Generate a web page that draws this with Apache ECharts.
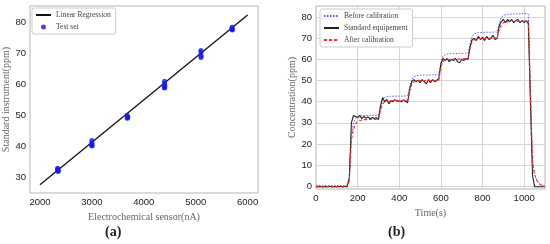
<!DOCTYPE html>
<html>
<head>
<meta charset="utf-8">
<script src="https://cdn.jsdelivr.net/npm/echarts@6/dist/echarts.min.js"></script>
<style>
  html, body { margin: 0; padding: 0; background: #fff; }
  #chart { width: 550px; height: 244px; }
</style>
</head>
<body>
<div id="chart"></div>
<script>
// (a) regression: sensor current vs standard instrument
var sensorX = [2340, 2345, 2350, 2340, 2350, 3000, 3000, 2995, 3005, 3000, 3680, 3690, 3680, 3690,
  4400, 4400, 4405, 4400, 4395, 5100, 5100, 5105, 5100, 5700, 5700, 5705, 5700];
var standardY = [32.8, 32.2, 31.8, 32.5, 32.0, 41.8, 41.0, 40.2, 40.0, 40.6, 50.0, 49.5, 49.0, 49.2,
  61.0, 60.2, 59.5, 58.8, 59.0, 71.0, 70.3, 69.2, 68.7, 78.5, 78.0, 77.6, 77.8];
var fitX = [2000, 6000];
var fitY = [27.5, 82.5];
var xTicksA = [2000, 3000, 4000, 5000, 6000];
var yTicksA = [30, 40, 50, 60, 70, 80];

// (b) time series, one sample every 10 s
var timeS = [];
for (var t = 0; t <= 1100; t += 10) timeS.push(t);

var standardEq = [
  -0.2, -0.3, -0.2, -0.3, -0.2, -0.3, -0.2, -0.2, -0.3, -0.2, -0.3, -0.2, -0.2, -0.3, -0.2, -0.2,
  4, 30, 33.5, 33, 32.5, 33.5, 32, 33, 32.2, 32.8, 31.8, 32.5, 32, 32.5, 31.5,
  38, 42, 40, 41, 39, 40.5, 40, 41, 40.2, 40.5, 40, 40.8, 40.2, 39.5,
  46, 49.5, 50.5, 49.5, 50.2, 49, 50.5, 49.5, 48.5, 50.5, 49, 50.5, 49.5, 50.2, 51,
  58, 60.5, 59.5, 60.5, 59, 60, 59.5, 60.5, 59, 58.5, 60, 59.5, 60.5, 60,
  66, 69.5, 70, 69, 71, 69.5, 70.5, 69, 71, 69.5, 70, 71.5, 69.5, 70,
  76, 78, 79, 77.5, 79, 78, 79, 77.5, 78.5, 79, 77.5, 78.5, 77.5, 78.5, 77,
  40, 5, -0.3, -0.3, -0.3, -0.3, -0.3, -0.3
];
var beforeCal = [
  0.2, 0.2, 0.2, 0.2, 0.2, 0.2, 0.2, 0.2, 0.2, 0.2, 0.2, 0.2, 0.2, 0.2, 0.2, 0.2,
  3, 24, 30, 32, 32.8, 33.2, 33.4, 33.5, 33.5, 33.6, 33.5, 33.6, 33.5, 33.6, 33.6,
  38, 41, 42, 42.4, 42.5, 42.6, 42.6, 42.7, 42.6, 42.7, 42.6, 42.7, 42.7, 42.8,
  47, 50.5, 51.8, 52.3, 52.5, 52.6, 52.6, 52.7, 52.6, 52.7, 52.7, 52.8, 52.7, 52.8, 53,
  58.5, 61.5, 62.3, 62.6, 62.8, 62.8, 62.9, 62.8, 62.9, 63, 62.9, 63, 63, 63.1,
  67.5, 71, 72.2, 72.6, 72.8, 72.8, 72.9, 72.9, 73, 72.9, 73, 73, 73.1, 73,
  77, 80, 81, 81.3, 81.5, 81.5, 81.6, 81.6, 81.7, 81.6, 81.7, 81.7, 81.8, 81.8, 81.5,
  45, 12, 6, 3, 1.5, 0.7, 0.3, 0.1
];
var afterCal = [
  -0.4, -0.4, -0.4, -0.4, -0.4, -0.4, -0.4, -0.4, -0.4, -0.4, -0.4, -0.4, -0.4, -0.4, -0.4, -0.4,
  2.5, 22, 27, 29.5, 30.5, 31, 31.3, 31.5, 31.5, 31.6, 31.6, 31.7, 31.6, 31.7, 31.8,
  36, 39, 40, 40.3, 40.4, 40.5, 40.5, 40.6, 40.5, 40.6, 40.6, 40.7, 40.6, 40.7,
  45, 48.3, 49.3, 49.7, 49.9, 50, 50, 50.1, 50, 50.1, 50.1, 50.2, 50.1, 50.2, 50.3,
  56.5, 59, 59.7, 60, 60.1, 60.2, 60.2, 60.3, 60.2, 60.3, 60.3, 60.4, 60.3, 60.4,
  65.5, 68.5, 69.5, 69.8, 70, 70, 70.1, 70.1, 70.2, 70.1, 70.2, 70.2, 70.3, 70.2,
  74, 76.5, 77.5, 77.8, 78, 78, 78.1, 78.1, 78.2, 78.1, 78.2, 78.2, 78.3, 78.3, 78,
  43, 11, 5.5, 2.8, 1.3, 0.5, 0.1, -0.2
];
var xTicksB = [0, 200, 400, 600, 800, 1000];
var yTicksB = [0, 10, 20, 30, 40, 50, 60, 70, 80];

function zip(xs, ys) {
  return xs.map(function (x, i) { return [x, ys[i]]; });
}

var tickFont = { fontFamily: 'Liberation Sans', fontSize: 9.5, color: '#222' };
var titleFont = { fontFamily: 'Liberation Serif', fontSize: 10, color: '#666' };

function valAxis(idx, min, max, ticks, name, gap, grid) {
  return {
    type: 'value', gridIndex: idx, min: min, max: max,
    name: name, nameLocation: 'middle', nameGap: gap, nameTextStyle: titleFont,
    axisLine: { show: false },
    axisTick: { show: false, customValues: ticks },
    axisLabel: Object.assign({
      customValues: ticks, margin: 4,
      formatter: function (v) { return String(v); }
    }, tickFont),
    splitLine: { show: grid, lineStyle: { color: '#d6d6d6', width: 1 } }
  };
}

var lineOnly = { opacity: 0 };
var legendBase = {
  orient: 'vertical', itemWidth: 15, itemHeight: 5, itemGap: 4,
  padding: [3, 5, 3, 3], borderColor: '#ccc', borderWidth: 1, borderRadius: 2,
  backgroundColor: '#fff',
  textStyle: { fontFamily: 'Liberation Serif', fontSize: 7.5, color: '#444' }
};

var chart = echarts.init(document.getElementById('chart'));
chart.setOption({
  animation: false,
  backgroundColor: '#fff',
  grid: [
    { left: 30, top: 6, width: 228, height: 187, show: true, borderColor: '#b5b5b5', borderWidth: 1 },
    { left: 316, top: 6, width: 229, height: 183, show: true, borderColor: '#b5b5b5', borderWidth: 1 }
  ],
  xAxis: [
    valAxis(0, 1808, 6200, xTicksA, 'Electrochemical sensor(nA)', 15, false),
    valAxis(1, 0, 1100, xTicksB, 'Time(s)', 13, true)
  ],
  yAxis: [
    valAxis(0, 24.8, 85.4, yTicksA, 'Standard instrument(ppm)', 18, false),
    valAxis(1, -1.4, 85.4, yTicksB, 'Concentration(ppm)', 17, true)
  ],
  legend: [
    Object.assign({}, legendBase, {
      left: 32, top: 8,
      data: [
        { name: 'Linear Regression', itemStyle: lineOnly },
        { name: 'Test set', icon: 'circle' }
      ]
    }),
    Object.assign({}, legendBase, {
      left: 320, top: 9,
      data: [
        { name: 'Before calibration', itemStyle: lineOnly },
        { name: 'Standard equipement', itemStyle: lineOnly },
        { name: 'After calibration', itemStyle: lineOnly }
      ]
    })
  ],
  graphic: [
    { type: 'text', left: 105, top: 225, style: { text: '(a)', font: 'bold 14px "Liberation Serif"', fill: '#222' } },
    { type: 'text', left: 388, top: 225, style: { text: '(b)', font: 'bold 14px "Liberation Serif"', fill: '#222' } }
  ],
  series: [
    {
      name: 'Linear Regression', type: 'line', xAxisIndex: 0, yAxisIndex: 0,
      data: zip(fitX, fitY), symbol: 'none', z: 2,
      lineStyle: { color: '#111', width: 1.3 }, itemStyle: { color: '#111' }
    },
    {
      name: 'Test set', type: 'scatter', xAxisIndex: 0, yAxisIndex: 0,
      data: zip(sensorX, standardY), symbolSize: 5, z: 3,
      itemStyle: { color: '#1414ff' }
    },
    {
      name: 'Before calibration', type: 'line', xAxisIndex: 1, yAxisIndex: 1,
      data: zip(timeS, beforeCal), symbol: 'none',
      lineStyle: { color: '#5a5aff', width: 1, type: [1.5, 1.5] }, itemStyle: { color: '#5a5aff' }
    },
    {
      name: 'Standard equipement', type: 'line', xAxisIndex: 1, yAxisIndex: 1,
      data: zip(timeS, standardEq), symbol: 'none',
      lineStyle: { color: '#222', width: 1.1 }, itemStyle: { color: '#222' }
    },
    {
      name: 'After calibration', type: 'line', xAxisIndex: 1, yAxisIndex: 1,
      data: zip(timeS, afterCal), symbol: 'none',
      lineStyle: { color: '#ff2a2a', width: 1.1, type: [3, 2] }, itemStyle: { color: '#ff2a2a' }
    }
  ]
});
</script>
</body>
</html>
